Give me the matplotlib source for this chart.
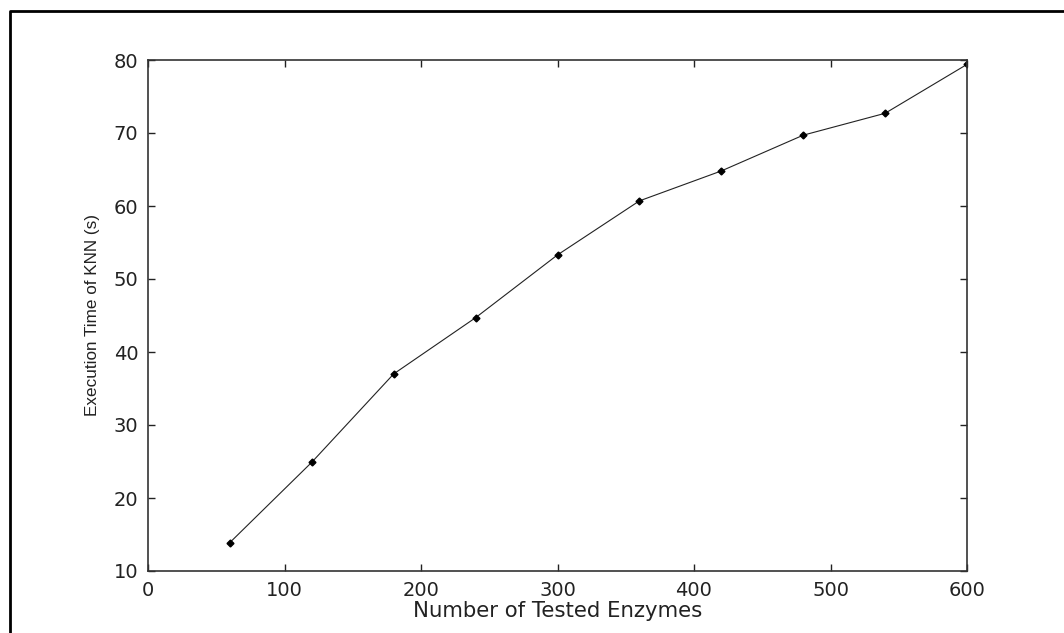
import matplotlib
matplotlib.use("Agg")
import matplotlib.pyplot as plt
from matplotlib.lines import Line2D

# data
enzymes = [60, 120, 180, 240, 300, 360, 420, 480, 540, 600]
exec_time = [13.9, 24.9, 37.0, 44.7, 53.3, 60.7, 64.8, 69.7, 72.7, 79.4]

plt.rcParams['font.family'] = ['DejaVu Sans']

W, H = 1064, 633
fig = plt.figure(figsize=(W / 100, H / 100), dpi=100)
ax = fig.add_axes([148 / W, 1 - 571 / H, (967 - 148) / W, (571 - 60) / H])

ax.plot(enzymes, exec_time, color='#222222', linewidth=0.8,
        marker='D', markersize=3.5, markerfacecolor='black', markeredgecolor='black')

ax.set_xlim(0, 600)
ax.set_ylim(10, 80)
ax.set_xticks(range(0, 601, 100))
ax.set_yticks(range(10, 81, 10))
ax.tick_params(direction='in', length=5, width=1, top=True, right=True,
               labelsize=14, pad=7, colors='#222222')
for s in ax.spines.values():
    s.set_linewidth(1.2)
    s.set_color('#333333')

ax.set_xlabel('Number of Tested Enzymes', fontsize=15.3, labelpad=1, color='#222222')
ax.set_ylabel('Execution Time of KNN (s)', fontsize=12.3, labelpad=10,
              family='Liberation Sans', color='#222222')

# outer frame (left and top edges visible)
fig.add_artist(Line2D([10 / W, 10 / W, 1.0], [0.0, 1 - 11 / H, 1 - 11 / H],
                      transform=fig.transFigure, color='black', linewidth=2))

fig.savefig('out.png', dpi=100)
